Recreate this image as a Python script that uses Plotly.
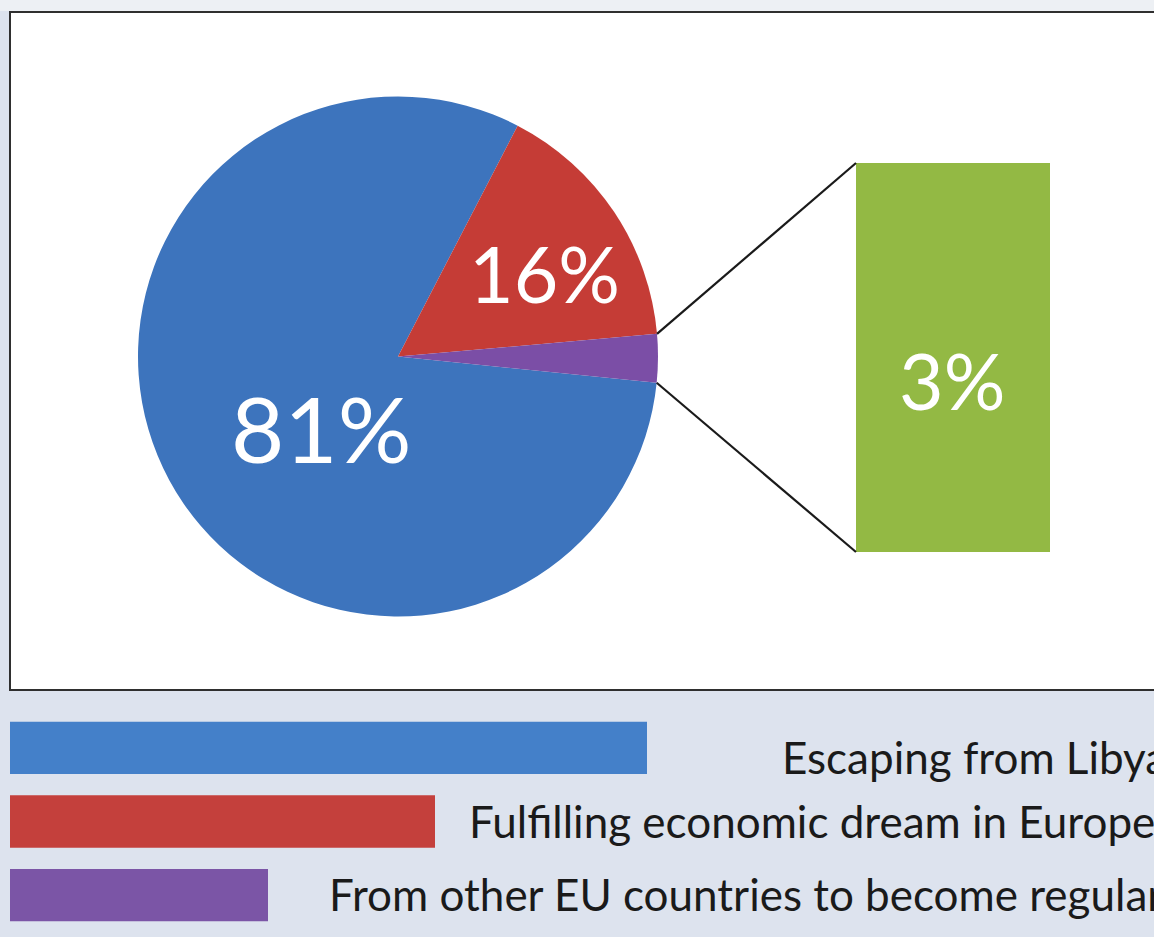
import math
import plotly.graph_objects as go

# ---------------- data ----------------
categories = ["Escaping from Libya", "Fulfilling economic dream in Europe",
              "From other EU countries to become regular"]
values = [81, 16, 3]
pie_colors = ["#3D74BD", "#C53C36", "#7B4EA6"]
bar_color = "#93B944"
legend_colors = ["#4480C9", "#C4403C", "#7B55A6"]
legend_swatch_len = [637, 425, 258]  # relative swatch lengths (as drawn)

W, H = 1154, 937
FONT = "Lato"

def px(x):
    return x / W

def py(y):
    return 1 - y / H

# pie geometry (pixels)
cx, cy, R = 398, 356.5, 260
pie_dom_x = [px(cx - R), px(cx + R)]
pie_dom_y = [py(cy + R), py(cy - R)]

# start of first slice (degrees, math convention) so the small slice sits at 3 o'clock
start_math = -5.8
rotation = 90 - start_math

fig = go.Figure()

# chart area (white, bordered)
fig.add_shape(type="rect", xref="paper", yref="paper",
              x0=px(10), x1=px(1170), y0=py(690), y1=py(12),
              fillcolor="white", line=dict(color="#2F2F2F", width=2), layer="below")
fig.add_shape(type="rect", xref="paper", yref="paper",
              x0=0, x1=1, y0=py(11), y1=1,
              fillcolor="#EDF0F4", line=dict(width=0), layer="below")

fig.add_trace(go.Pie(
    labels=categories, values=values, sort=False, direction="clockwise",
    rotation=rotation, marker=dict(colors=pie_colors, line=dict(width=0)),
    textinfo="none", hoverinfo="label+percent", showlegend=False,
    domain=dict(x=pie_dom_x, y=pie_dom_y),
))

# break-out bar for the small slice
fig.add_trace(go.Bar(
    x=[categories[2]], y=[values[2]], width=[1], marker=dict(color=bar_color, line=dict(width=0)),
    xaxis="x", yaxis="y", showlegend=False, hoverinfo="y",
))

# legend swatches
fig.add_trace(go.Bar(
    y=categories, x=legend_swatch_len, orientation="h", width=0.71,
    marker=dict(color=legend_colors, line=dict(width=0)),
    xaxis="x2", yaxis="y2", showlegend=False, hoverinfo="y",
))

bar_x0, bar_x1, bar_y0, bar_y1 = 856, 1050, 163, 552

# connector lines from the small slice edges to the bar corners
total = sum(values)
small_start = start_math + 360 * values[2] / total  # top edge
for ang, (tx, ty) in [(small_start, (bar_x0, bar_y0)), (start_math, (bar_x0, bar_y1))]:
    ex = cx + R * math.cos(math.radians(ang))
    ey = cy - R * math.sin(math.radians(ang))
    fig.add_shape(type="line", xref="paper", yref="paper",
                  x0=px(ex), y0=py(ey), x1=px(tx), y1=py(ty),
                  line=dict(color="#1A1A1A", width=2.2))

# value labels
label_pos = [(321, 428, 92), (544, 273, 77), (952, 380, 77)]
for v, (lx, ly, fs) in zip(values, label_pos):
    fig.add_annotation(x=px(lx), y=py(ly), xref="paper", yref="paper",
                       text=f"{v}%", showarrow=False,
                       font=dict(family=FONT, size=fs, color="white"),
                       xanchor="center", yanchor="middle")

# legend texts
legend_text_pos = [(780, 757), (467, 821), (327, 894)]
for cat, (lx, ly) in zip(categories, legend_text_pos):
    fig.add_annotation(x=px(lx), y=py(ly), xref="paper", yref="paper",
                       text=cat, showarrow=False,
                       font=dict(family=FONT, size=44, color="#1A1A1A"),
                       xanchor="left", yanchor="middle")

fig.update_layout(
    width=W, height=H,
    margin=dict(l=0, r=0, t=0, b=0),
    paper_bgcolor="#DDE3EE", plot_bgcolor="rgba(0,0,0,0)",
    xaxis=dict(domain=[px(bar_x0), px(bar_x1)], range=[-0.5, 0.5], visible=False, fixedrange=True),
    yaxis=dict(domain=[py(bar_y1), py(bar_y0)], range=[0, values[2]], visible=False, fixedrange=True),
    xaxis2=dict(domain=[px(10), px(647)], range=[0, legend_swatch_len[0]], visible=False,
                anchor="y2", fixedrange=True),
    yaxis2=dict(domain=[py(932), py(711)], autorange="reversed", visible=False,
                anchor="x2", fixedrange=True),
    font=dict(family=FONT),
)

fig.write_html("out.html")
